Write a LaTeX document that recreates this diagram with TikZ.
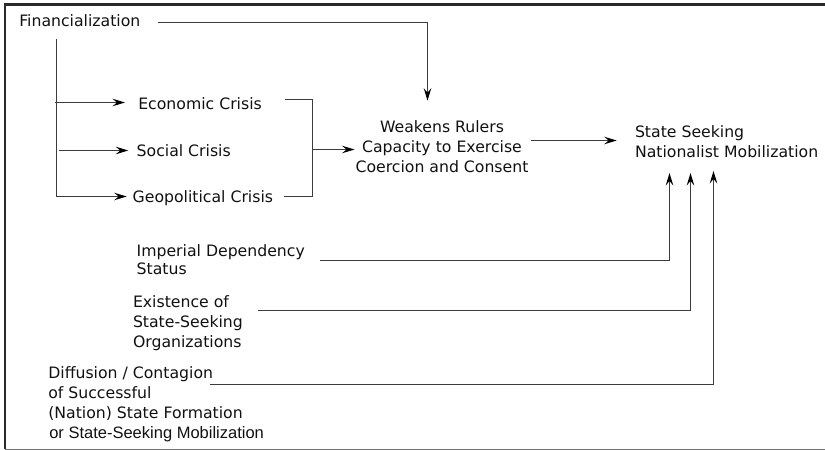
\documentclass[tikz,border=0pt]{standalone}
\usepackage{fontspec}
\setmainfont{DejaVu Sans}
\newfontfamily\arialf{Liberation Sans}
\usetikzlibrary{arrows.meta}
\definecolor{ln}{HTML}{3C3C3C}
\definecolor{tx}{HTML}{111111}
\definecolor{fr}{HTML}{2A2A2A}
\definecolor{frb}{HTML}{707070}
\begin{document}
\begin{tikzpicture}[x=1pt,y=-1pt,
  txt/.style={inner sep=0pt, outer sep=0pt, text=tx, font=\fontsize{15.7}{20}\selectfont},
  conn/.style={draw=ln, line width=1.1pt},
  arr/.style={conn, -{Stealth[length=12.5pt,width=7.5pt,inset=4.5pt,color=black]}}]
\useasboundingbox (0,0) rectangle (825,450);
% frame
\draw[line width=2.4pt, draw=fr] (826,4.6) -- (5.2,4.6) -- (5.2,449);
\draw[line width=1.3pt, draw=frb] (5.2,449.2) -- (826,449.2);

% text nodes
\node[txt, anchor=base west] (fin) at (19.3,26.7) {Financialization};
\node[txt, anchor=base west] (eco) at (138.3,109.3) {Economic Crisis};
\node[txt, anchor=base west] (soc) at (136.7,156.5) {Social Crisis};
\node[txt, anchor=base west] (geo) at (132.7,202) {Geopolitical Crisis};
\node[txt, anchor=north, align=center, font=\fontsize{15.7}{20.3}\selectfont] (weak) at (442,120.3)
  {Weakens Rulers\\Capacity to Exercise\\Coercion and Consent};
\node[txt, anchor=north west, align=left] (state) at (635,125.3)
  {State Seeking\\Nationalist Mobilization};
\node[txt, anchor=north west, align=left, font=\fontsize{15.7}{17.6}\selectfont] (imp) at (136.7,244.8)
  {Imperial Dependency\\Status};
\node[txt, anchor=north west, align=left, font=\fontsize{15.7}{20.2}\selectfont] (exi) at (133,295.4)
  {Existence of\\State-Seeking\\Organizations};
\node[txt, anchor=north west, align=left] (dif) at (48.3,366.4)
  {Diffusion / Contagion\\of Successful\\(Nation) State Formation\\{\arialf\fontsize{16.5}{20}\selectfont\hspace{1pt}or State-Seeking Mobilization}};

% connector points
\coordinate (finR) at (158.3,22.5);
\coordinate (ftop) at (56.5,39.3);
\coordinate (fbot) at (56.5,196.5);
\coordinate (fe) at (55,102.5);
\coordinate (fs) at (59.3,150.5);
\coordinate (bt) at (285,99.5);
\coordinate (bb) at (284,196.5);
\coordinate (bm) at (312.5,149.5);
\coordinate (wo) at (530.7,140.5);
\coordinate (i1) at (320,260.5);
\coordinate (e1) at (257.7,310.5);
\coordinate (d1) at (210,384.5);

% connectors
\draw[arr, shorten >=19.6pt] (finR) -| ([xshift=-14.5pt]weak.north);
\draw[conn] (ftop) -- (fbot);
\draw[arr, shorten >=6pt] (fbot) -- (fbot -| geo.west);
\draw[arr, shorten >=13.3pt] (fe) -- (fe -| eco.west);
\draw[arr, shorten >=8.4pt] (fs) -- (fs -| soc.west);
\draw[conn] (bt) -| (bm) |- (bb);
\draw[arr, shorten >=1pt] (bm) -- (bm -| weak.west);
\draw[arr, shorten >=18.3pt] (wo) -- (wo -| state.west);
\draw[arr, shorten >=15.5pt] (i1) -| ([xshift=34.5pt]state.south west);
\draw[arr, shorten >=15.5pt] (e1) -| ([xshift=55.5pt]state.south west);
\draw[arr, shorten >=13.5pt] (d1) -| ([xshift=78.5pt]state.south west);
\end{tikzpicture}
\end{document}
